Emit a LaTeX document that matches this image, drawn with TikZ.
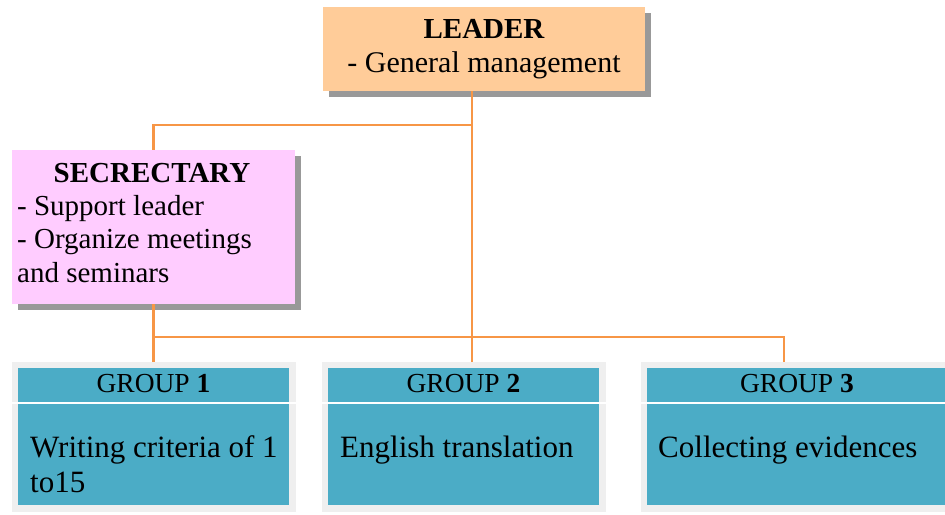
\documentclass[tikz,border=0pt]{standalone}
\usepackage{fontspec}
\setmainfont{Liberation Serif}
\usetikzlibrary{shadows}

\definecolor{peach}{HTML}{FFCC99}
\definecolor{pinkbox}{HTML}{FFCCFF}
\definecolor{tealbox}{HTML}{4BACC6}
\definecolor{framegray}{HTML}{EFEFEF}
\definecolor{linkorange}{HTML}{F79646}

\tikzset{
  role/.style={rectangle, inner sep=0pt,
    drop shadow={shadow xshift=6pt, shadow yshift=-6pt, fill=black!40, opacity=1}},
  grp/.style={rectangle, inner sep=0pt, fill=tealbox, draw=framegray, line width=6.5pt,
    minimum width=277.5pt, minimum height=143.5pt,
    drop shadow={shadow xshift=1.5pt, shadow yshift=-1pt, fill=black!25, opacity=1}},
  link/.style={draw=linkorange, line width=2.2pt},
  ttl/.style={inner sep=0pt, font=\fontsize{29}{33}\selectfont\bfseries},
  txt/.style={inner sep=0pt, font=\fontsize{29}{33.5}\selectfont},
  head/.style={inner sep=0pt, font=\fontsize{27.5}{30}\selectfont},
  body/.style={inner sep=0pt, font=\fontsize{31}{35}\selectfont}
}

\begin{document}
\begin{tikzpicture}[x=1pt, y=-1pt]
  \useasboundingbox[fill=white] (0,0) rectangle (945,514);

  % boxes
  \node[role, fill=peach, minimum width=322pt, minimum height=84pt] (ldr) at (484,49) {};
  \node[role, fill=pinkbox, minimum width=283pt, minimum height=154pt] (sec) at (153.5,227) {};
  \node[grp] (g1) at (153.5,436.5) {};
  \node[grp] (g2) at (463.5,436.5) {};
  \node[grp, minimum width=307.5pt] (g3) at (797.5,436.5) {};

  \foreach \g in {g1,g2,g3}
    \draw[white, line width=1.5pt] ([yshift=-41.25pt]\g.north west) -- ([yshift=-41.25pt]\g.north east);

  % connectors
  \coordinate (up) at (472,125);
  \coordinate (down) at (784,337);
  \draw[link] (ldr.south -| up) -- (g2.north -| up);
  \draw[link] (sec.north) |- (up);
  \draw[link] (sec.south) -- (g1.north);
  \draw[link] (sec.south |- down) -- (down) -- (g3.north -| down);

  % texts
  \node[ttl, anchor=base] (ldrtitle) at (484,38) {LEADER};
  \node[txt, font=\fontsize{30}{34}\selectfont, anchor=base] (ldrtask) at (484,72) {- General management};
  \node[ttl, anchor=base] (sectitle) at (152,182) {SECRECTARY};
  \node[txt, anchor=base west] (sectask) at (17,215)
    {\begin{tabular}[t]{@{}l@{}}- Support leader\\- Organize meetings\\and seminars\end{tabular}};

  \node[head, anchor=base] (g1head) at (153.5,392) {GROUP \textbf{1}};
  \node[head, anchor=base] (g2head) at (463.5,392) {GROUP \textbf{2}};
  \node[head, anchor=base] (g3head) at (797,392) {GROUP \textbf{3}};

  \node[body, anchor=base west] (g1task) at (30,457)
    {\begin{tabular}[t]{@{}l@{}}Writing criteria of 1\\to15\end{tabular}};
  \node[body, anchor=base west] (g2task) at (340,457) {English translation};
  \node[body, anchor=base west] (g3task) at (658,457) {Collecting evidences};
\end{tikzpicture}
\end{document}
